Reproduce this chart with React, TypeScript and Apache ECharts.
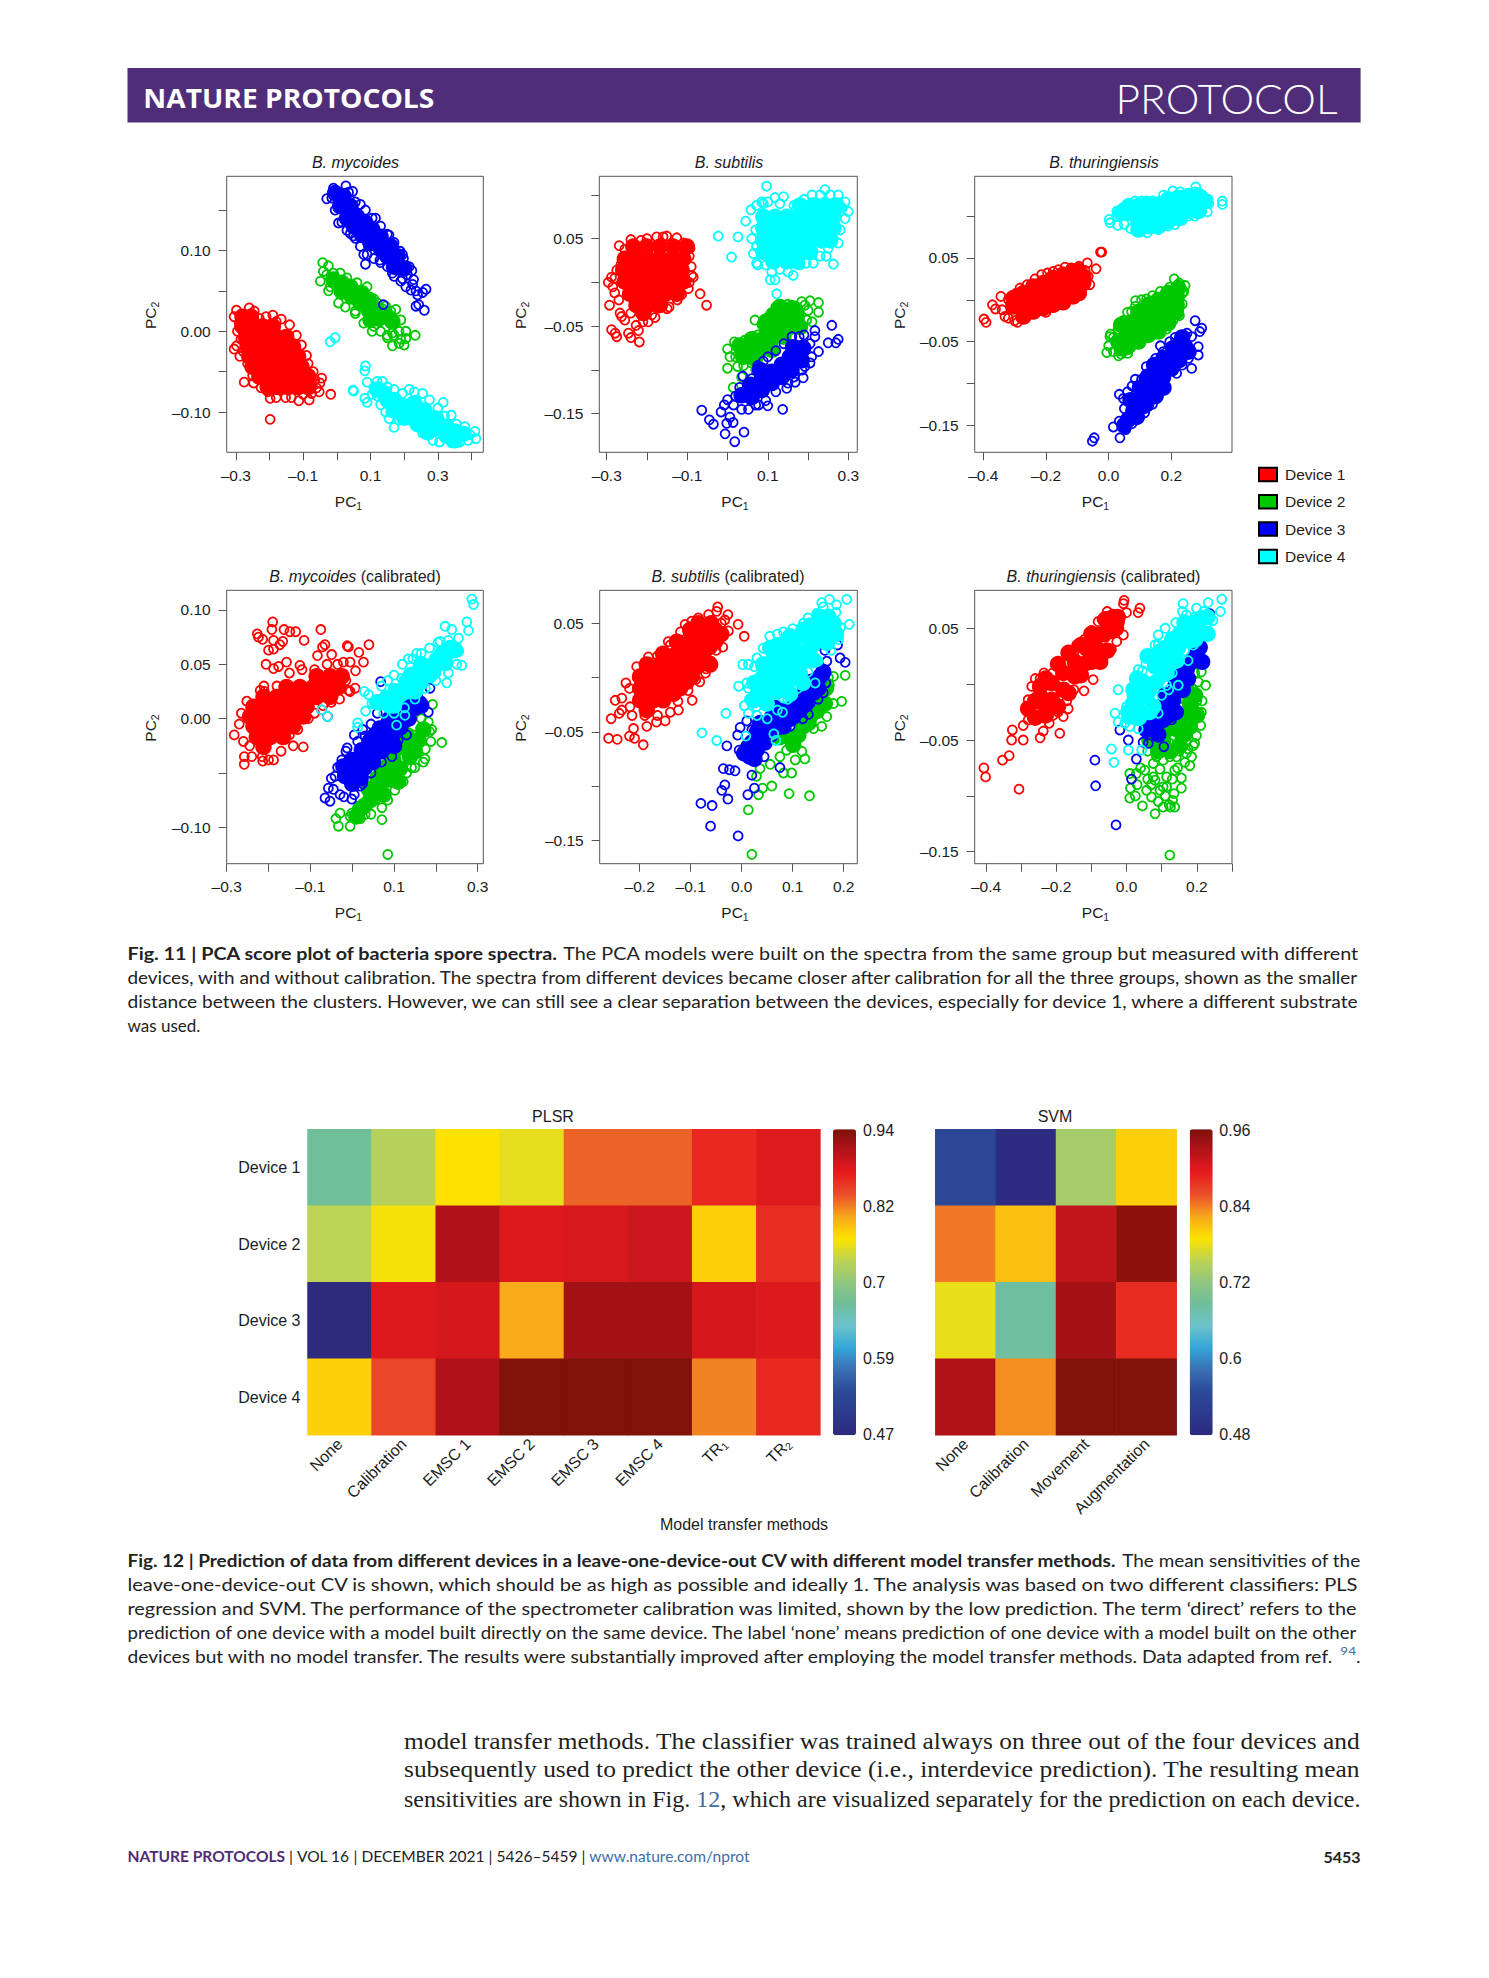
import React, { useEffect, useRef } from "react";
import * as echarts from "echarts";

// ---- values are thousandths of a PC unit, listed as x,y,x,y... ; Core = saturated part of a cloud, Ring = single visible circles
const myc1Core = [-280,18,-255,18,-280,6,-250,6,-220,6,-190,6,-270,-7,-240,-7,-210,-7,-180,-7,-150,-7,-265,-19,-235,-19,-205,-19,-175,-19,-145,-19,-130,-19,-260,-31,-230,-31,-200,-31,-170,-31,-140,-31,-115,-31,-250,-44,-220,-44,-190,-44,-160,-44,-130,-44,-105,-44,-230,-56,-200,-56,-170,-56,-140,-56,-110,-56,-85,-56,-205,-69,-175,-69,-145,-69,-115,-69,-85,-69];
const myc1Ring = [-298,26,-305,18,-260,29,-305,-22,-298,-18,-288,-31,-275,-63,-247,-64,-198,-109,-198,-83,-152,-82,-113,-86,-82,-85,-18,-78,-45,-58,-50,-64,-52,-75,-75,-77,-85,-40,-105,-17,-140,8,-190,20,-230,16,-180,12,-70,-50,-290,10,-295,0,-285,-10,-278,-25,-265,-40,-250,-55,-225,-70,-205,-75,-180,-82,-135,-82,-100,-78,-60,-70,-65,-60,-90,-30,-120,-5,-165,15,-210,18,-245,25];
const myc2Core = [-10,64,15,60,40,55,15,49,45,43,70,47,70,35,95,39,95,26,120,26,125,16,150,18,165,12,100,14];
const myc2Ring = [-42,85,-25,81,-40,74,-49,62,-20,55,10,72,55,22,90,55,120,35,175,27,190,14,165,-18,200,-17,233,-5,205,0,150,-5,170,-5,185,-15,205,-9,110,6,145,31,-30,70,-10,72,30,66,60,60,80,50,110,40,135,28,160,25,-25,50,5,35,25,30,55,25,80,10,105,0,130,0,150,-8,165,-2,185,0,190,-10];
const myc3Core = [-5,171,20,167,10,155,40,155,30,140,60,142,50,130,85,134,75,119,105,126,100,109,130,117,130,103,160,105,150,93,180,93,170,80,200,78];
const myc3Ring = [-30,164,-10,177,27,180,47,173,70,157,115,140,5,134,40,121,55,115,85,83,80,95,155,119,188,99,198,90,223,75,228,64,205,55,220,51,265,52,255,48,240,45,235,31,260,26,243,33,170,68,190,62,128,88,-15,165,-5,150,15,135,30,125,50,118,70,105,90,95,110,90,130,85,150,80,165,72,195,65,210,70,35,172,55,160,85,150,105,140,130,130,150,120,170,110,195,95,215,80,225,58,235,50,138,33];
const myc4Core = [140,-77,170,-85,200,-93,230,-89,230,-102,260,-98,265,-112,295,-108,295,-120,325,-118,325,-129,350,-124,170,-98,200,-107,240,-115,270,-125,350,-135,375,-127,120,-72,150,-85];
const myc4Ring = [-20,-13,-5,-8,85,-43,83,-49,90,-63,48,-73,50,-74,83,-83,90,-88,120,-62,150,-69,130,-91,155,-108,170,-119,230,-75,255,-77,316,-88,340,-104,380,-118,410,-124,413,-133,390,-135,365,-137,340,-138,305,-137,285,-135,255,-126,210,-110,185,-110,110,-70,135,-62,170,-72,195,-77,215,-72,275,-85,300,-95,320,-105,355,-115,395,-128,145,-100,120,-80,105,-78,160,-100];

const sub1Core = [-234,41,-201,41,-168,41,-135,41,-101,41,-255,27,-226,27,-197,27,-168,27,-139,27,-110,27,-259,14,-230,14,-201,14,-172,14,-143,14,-114,14,-255,1,-226,1,-197,1,-168,1,-139,1,-110,1,-242,-13,-213,-13,-184,-13,-155,-13,-126,-13,-226,-26,-197,-26,-168,-26,-209,-35];
const sub1Ring = [-269,42,-240,49,-215,48,-176,52,-151,53,-126,51,-93,39,-89,8,-85,6,-97,-7,-114,-14,-68,-13,-52,-26,-145,-28,-293,-26,-296,0,-288,6,-275,14,-267,-35,-255,-43,-288,-54,-279,-58,-275,-62,-246,-58,-240,-63,-221,-55,-227,-49,-219,-68,-197,-45,-188,-37,-263,-39,-285,-5,-280,5,-265,20,-255,38,-200,50,-160,52,-110,45,-95,30,-90,18,-95,0,-125,-20,-150,-30,-180,-40,-210,-45,-240,-35,-270,-20,-280,-12];
const sub2Core = [114,-37,143,-35,172,-39,97,-51,126,-51,155,-51,180,-51,81,-66,110,-64,139,-62,52,-75,81,-77,110,-77,39,-85,68,-87,30,-72,60,-65,95,-45,130,-28,165,-30];
const sub2Ring = [226,-23,205,-21,184,-22,226,-34,68,-43,17,-68,0,-76,6,-85,0,-98,25,-96,14,-120,35,-108,197,-43,64,-62,43,-66,135,-26,159,-26,192,-26,30,-80,45,-85,60,-92,20,-85,45,-75,75,-60,85,-48,100,-40,120,-28,150,-25,175,-30,200,-32,210,-45,180,-45,40,-95,70,-100];
const sub3Core = [35,-129,60,-131,56,-117,85,-123,85,-110,110,-115,110,-102,135,-108,135,-94,159,-100,155,-85,184,-89,163,-74,188,-75,81,-100];
const sub3Ring = [-64,-146,-45,-157,-35,-162,-16,-148,-8,-140,0,-134,-6,-173,18,-182,41,-171,-2,-161,14,-160,6,-154,38,-107,100,-141,137,-145,52,-145,77,-140,188,-109,168,-114,259,-49,275,-65,250,-69,269,-69,217,-55,217,-62,226,-79,209,-85,178,-62,89,-90,192,-96,147,-121,20,-130,15,-140,35,-145,30,-120,60,-110,75,-95,100,-85,120,-78,140,-70,160,-62,190,-60,205,-70,205,-92,185,-100,165,-108,150,-115,120,-125,95,-135,70,-140];
const sub4Core = [180,88,213,88,242,88,271,88,89,75,118,75,147,75,176,75,205,75,234,75,263,75,89,62,118,62,147,62,176,62,205,62,234,62,263,62,89,48,118,48,147,48,176,48,205,48,234,48,255,48,89,35,118,35,147,35,176,35,205,35,114,24,147,24,172,24];
const sub4Ring = [97,110,139,98,118,97,89,90,72,88,58,83,45,70,-23,53,26,52,10,29,242,106,275,100,292,92,300,81,292,73,122,-13,106,3,118,3,163,8,72,22,213,22,263,21,250,39,261,52,64,33,72,41,110,12,180,20,85,92,100,92,130,90,165,88,190,95,210,100,230,100,255,100,285,85,280,60,275,45,60,50,70,60,75,20,95,20,130,15,150,12,195,22,230,30,245,30];

const thu1Core = [-304,-8,-272,-4,-272,-14,-240,4,-240,-6,-209,8,-209,-2,-177,14,-177,4,-145,18,-145,8,-113,24,-113,14,-81,28,-81,20,-304,2,-272,8,-240,16,-209,20,-177,26,-145,30,-113,34,-95,34,-272,-20,-240,-14,-209,-10,-177,-6,-145,-3,-113,4,-95,8];
const thu1Ring = [-398,-23,-391,-27,-371,-6,-361,-11,-344,4,-331,-20,-291,-27,-283,14,-230,-15,-200,-15,-129,0,-86,9,-40,37,-68,44,-26,57,-22,57,-214,30,-139,39,-177,34,-340,-12,-320,-22,-300,-25,-270,-20,-245,-15,-215,-10,-185,-8,-155,-5,-110,2,-320,0,-295,8,-260,18,-235,25,-195,32,-160,36,-120,38,-95,40,-75,35,-65,28,-60,18];
const thu2Core = [31,-50,63,-40,41,-58,95,-30,95,-40,127,-20,127,-32,159,-12,159,-26,190,-4,190,-18,217,4,217,-6,40,-30,63,-28,95,-15,127,-6,159,0,190,8,222,14,63,-55,95,-50,127,-42,159,-38,190,-28,215,-15];
const thu2Ring = [209,25,244,17,236,8,86,-1,-6,-63,6,-41,31,-67,61,-64,15,-62,164,-39,226,-19,73,-14,121,1,4,-44,15,-45,30,-35,45,-25,60,-15,85,-8,105,0,140,5,165,10,195,15,225,20,240,10,235,-5,225,-10,205,-25,185,-35,140,-40,110,-42,85,-50,60,-60,40,-65,0,-55];
const thu3Core = [63,-143,79,-133,111,-127,95,-120,132,-116,121,-106,153,-104,143,-92,174,-92,159,-82,190,-80,217,-64,244,-56,70,-120,100,-105,125,-92,145,-78,175,-70,205,-58,235,-45,120,-125,150,-115,175,-105,200,-82,225,-72,255,-62,90,-140,50,-150];
const thu3Ring = [276,-25,297,-34,291,-38,212,-45,228,-44,265,-44,286,-56,286,-66,265,-82,34,-113,47,-118,75,-103,217,-88,15,-152,36,-165,34,-145,-46,-165,-52,-169,174,-62,50,-130,60,-110,85,-95,105,-95,120,-80,150,-70,165,-55,195,-50,220,-50,250,-40,255,-70,235,-78,205,-85,180,-95,165,-110,140,-125,115,-135,90,-140,75,-148,55,-155];
const thu4Core = [63,104,95,102,95,92,127,106,127,96,159,106,159,96,190,112,190,102,222,114,222,106,254,116,286,116,307,118,65,112,40,104,95,112,127,114,159,114,190,120,222,122,254,124,286,124,286,106,254,106,222,98,190,94,159,88,127,88,95,84];
const thu4Ring = [2,96,4,92,29,89,26,106,91,83,123,80,159,84,212,90,254,100,297,106,228,129,278,135,276,129,363,118,363,114,318,120,121,118,84,118,25,100,45,110,65,115,105,118,140,118,175,125,205,130,240,125,260,125,300,125,320,115,315,105,275,100,235,95,190,88,140,85,105,82,70,85,50,90];

const mycC1Core = [-85,39,-53,39,-25,39,-157,29,-125,29,-93,29,-61,29,-33,29,-212,20,-180,20,-149,20,-117,20,-85,20,-53,20,-236,11,-204,11,-173,11,-141,11,-109,11,-244,2,-212,2,-180,2,-149,2,-117,2,-236,-7,-204,-7,-173,-7,-141,-7,-228,-17,-196,-17,-165,-17,-212,-26];
const mycC1Ring = [-190,89,-192,82,-227,78,-224,75,-214,73,-188,72,-163,82,-149,80,-135,80,-115,72,-166,71,-173,68,-200,63,-188,64,-75,82,-65,68,-71,66,-12,67,-9,66,16,61,40,68,-49,59,-83,58,-21,52,27,52,-5,52,8,44,-206,50,-188,46,-157,52,-125,49,7,28,-9,26,-45,21,-73,8,-59,2,-117,-26,-141,-25,-188,-38,-214,-39,-258,-35,-258,-42,-282,-15,-252,16,-220,26,-211,30,-260,-21,-176,48,-270,-5,-265,5,-250,0,-245,-25,-240,-35,-215,-35,-200,-38,-170,-30,-150,-15,-130,-10,-105,0,-90,5,-70,12,-50,15,-30,18,-5,25,-15,35,-35,50,-60,50,-90,45,-120,45,-150,42,-180,30,-210,25];
const mycC2Core = [19,-83,43,-75,66,-66,90,-56,75,-50,114,-46,98,-38,138,-35,122,-26,158,-20,170,-10,51,-66,30,-80,110,-58,150,-30,40,-65,60,-55,80,-45,100,-30,130,-15,145,-25,10,-90,75,-70];
const mycC2Ring = [85,-125,-33,-99,-5,-99,-39,-92,-29,-87,-1,-87,31,-88,71,-93,71,-82,192,13,214,-22,188,-21,190,-10,170,-40,174,-37,142,-45,122,-58,102,-66,182,-3,-5,-90,20,-92,45,-88,55,-75,85,-75,105,-58,130,-50,150,-45,175,-28,185,-12,165,0,145,-15,125,-20];
const mycC3Core = [-17,-53,11,-47,-1,-38,35,-37,23,-29,58,-27,43,-20,82,-17,66,-9,106,-6,90,0,122,-1,138,11,-21,-44,20,-55,50,-40,70,-30,95,-20,115,-8,150,20,165,12,0,-60,30,-45,55,-15,85,-5,100,-25,-5,-48,110,5,135,0,150,10];
const mycC3Ring = [-65,-73,-53,-76,-57,-64,-45,-65,-29,-70,-1,-74,19,-62,-41,-53,-25,-38,-12,-27,13,-21,31,-16,68,34,182,6,166,16,186,28,150,25,-50,-55,-35,-45,-15,-30,5,-15,25,-10,45,-5,60,5,85,15,130,-15,110,-20,95,-35,70,-40,45,-50,25,-60,5,-70,-20,-72];
const mycC4Core = [82,19,106,25,130,34,154,42,130,25,178,48,202,54,226,60,246,63,162,33,194,43,222,51,100,12,60,15,150,25,115,22,90,12,140,40,165,50,215,60,235,65,185,40];
const mycC4Ring = [286,110,290,105,274,89,278,81,222,85,238,82,254,74,210,71,262,49,226,33,154,60,134,55,118,37,29,25,39,22,47,14,32,7,13,-4,13,-8,-59,2,-73,8,106,-6,126,3,98,28,70,30,85,35,100,40,120,50,145,55,165,60,185,65,205,70,230,72,255,62,250,50,230,42,200,35,175,28,150,18,125,10,100,5,75,5,55,15];

const subC1Core = [-101,44,-75,44,-52,44,-127,33,-101,33,-75,33,-52,33,-154,22,-127,22,-101,22,-75,22,-186,12,-160,12,-134,12,-108,12,-82,12,-199,1,-173,1,-147,1,-121,1,-98,1,-199,-10,-173,-10,-147,-10,-121,-10,-199,-21,-173,-21,-154,-21,-186,-30,-88,38,-63,38,-114,28,-88,28,-63,28,-140,17,-114,17,-88,17,-62,12,-172,7,-147,7,-121,7,-95,7,-186,-4,-160,-4,-134,-4,-108,-4,-186,-15,-160,-15,-134,-15,-85,50,-60,50,-40,40];
const subC1Ring = [-47,65,-49,61,-27,58,-33,53,-7,49,5,38,-26,43,-37,28,-71,4,-82,-4,-97,-21,-124,-30,-150,-40,-167,-41,-186,-45,-193,-62,-210,-56,-220,-54,-212,-47,-244,-57,-261,-56,-256,-38,-240,-33,-248,-21,-235,-19,-227,-5,-219,-27,-206,10,-183,19,-144,33,-111,49,-98,52,-235,-30,-215,-35,-190,-35,-165,-35,-140,-32,-125,-22,-105,-12,-90,-2,-70,8,-60,15,-50,25,-45,35,-40,50,-65,58,-85,55,-120,42,-140,30,-165,20,-190,12,-205,0,-220,-10];
const subC2Core = [92,-54,111,-53,101,-62,131,-42,147,-31,163,-24,120,-45,135,-35,150,-20,165,-10,75,-55];
const subC2Ring = [203,2,170,0,180,1,172,-7,196,-22,180,-24,167,-36,157,-45,141,-47,124,-75,105,-76,118,-68,98,-88,82,-88,59,-100,93,-107,133,-109,36,-84,29,-91,41,-102,33,-108,13,-122,20,-163,56,-80,75,-73,33,-66,88,-67];
const subC3Core = [36,-42,59,-37,82,-31,105,-24,124,-14,137,-4,42,-50,16,-73,29,-67,101,-36,13,-64,49,-48,82,-45,114,-30,141,-14,154,1,65,-28,30,-50,60,-48,95,-38,125,-25,150,-10,160,5,20,-60,5,-70,25,-75,45,-60];
const subC3Ring = [188,30,193,18,203,14,163,25,167,15,160,-14,134,-24,131,-34,-3,-46,-8,-53,-29,-63,-5,-67,75,-83,44,-73,-36,-84,-24,-85,-13,-86,20,-90,25,-102,12,-108,-33,-99,-39,-104,-27,-112,-80,-116,-58,-118,-61,-137,-7,-146,65,-26,10,-40,20,-48,25,-55,40,-60,60,-55,75,-48,95,-45,120,-38,150,-20,165,-5];
const subC4Core = [33,-13,39,-1,59,-10,62,4,82,7,62,16,82,21,105,13,105,27,127,24,127,38,150,35,147,47,170,44,170,56,85,-4,42,12,49,-24,23,-21,69,-13,114,4,141,16,167,32,180,50,154,56,121,44,95,38,56,27,100,0,120,15,140,30,160,45,185,40,120,-5,75,-5,50,5,75,30,100,35,135,48,40,-12,25,-5,95,-15];
const subC4Ring = [172,72,157,69,206,72,186,67,211,49,194,46,147,59,121,50,82,42,42,27,2,12,13,12,-6,-8,13,-10,5,-26,-31,-33,-78,-51,-49,-58,8,-54,13,-33,82,-19,80,-32,63,-52,67,-58,144,-5,29,-27,15,-20,10,-5,25,10,30,18,55,38,70,40,100,45,130,55,160,65,185,60,190,35,175,25,150,15,130,5,110,-10,90,-20,70,-30,50,-38,30,-35];

const thuC1Core = [-246,-11,-213,-14,-213,1,-180,-5,-180,10,-147,7,-147,20,-114,19,-114,32,-85,32,-85,44,-47,48,-38,60,-246,-2,-227,-20,-280,-22,-260,-15,-260,-30,-230,5,-195,18,-165,28,-130,35,-100,45,-65,45,-60,58,-25,60,-100,20,-130,8,-165,-8,-195,-20,-230,-28,-75,20,-55,30,-30,50];
const thuC1Ring = [-7,75,-9,72,38,68,33,64,0,64,-81,56,-9,44,-28,38,-43,31,-76,19,-95,4,-121,-6,-166,-22,-180,-29,-190,-44,-237,-42,-246,-48,-294,-50,-327,-50,-325,-41,-280,-32,-294,-37,-334,-64,-353,-68,-406,-75,-401,-83,-306,-94,-270,-2,-246,5,-280,-14,-166,27,-142,35,-209,-28,-260,-25,-240,-30,-220,-35,-195,-25,-170,-15,-150,-5,-125,8,-100,20,-75,30,-60,42,-40,45,-20,55,-55,65,-70,58,-100,48,-120,40,-150,28,-175,18,-210,10,-235,10,-260,5];
const thuC2Core = [133,-32,166,-29,114,-41,147,-41,180,-17,85,-47,180,-38,104,-50,170,-5,195,-10,200,-28,150,-55,125,-60,90,-60,165,-45,65,-50];
const thuC2Ring = [213,11,194,10,204,2,225,-1,213,-25,194,-23,211,-37,199,-46,194,-53,175,-58,185,-65,180,-73,166,-70,142,-65,137,-77,104,-68,76,-71,52,-77,9,-80,28,-80,11,-93,9,-102,45,-109,57,-95,71,-101,81,-86,104,-92,114,-83,156,-84,156,-93,135,-98,131,-104,137,-110,121,-108,104,-110,81,-116,123,-153,95,-76,114,-92,76,-83,85,-65,123,-65,161,-56,152,-49,123,-53,190,-5,170,-10,150,-20,125,-15,200,-15,215,-15,205,-25,190,-55,150,-60,100,-55,60,-60,40,-75,60,-85,95,-95,130,-85,145,-75,170,-62,125,-110,110,-100,90,-105,70,-90,30,-90,25,-100];
const thuC3Core = [71,-35,104,-23,133,-14,156,1,171,13,57,-41,85,-32,123,-17,152,7,180,19,104,-32,208,33,110,-10,140,0,160,-5,175,5,195,25,215,20,140,-25,120,-28,90,-45];
const thuC3Ring = [237,63,237,44,213,32,180,21,147,-1,133,-25,128,-32,106,-56,62,-53,28,-67,14,-85,-19,-41,5,-50,5,-25,-90,-68,-88,-91,-30,-126,28,4,47,-52];
const thuC4Core = [28,-20,57,-11,47,2,85,2,81,16,114,21,114,33,147,33,152,45,185,51,213,59,9,-29,85,25,47,-8,19,-17,142,21,180,39,208,45,114,10,76,-20,20,-5,5,-25,35,-30,65,-5,65,-25,100,15,100,30,130,40,130,25,165,40,165,55,195,55,195,40,230,60,230,45,60,25,30,5];
const thuC4Ring = [271,76,267,65,232,73,199,68,161,72,159,65,90,44,81,35,33,13,24,3,-24,-5,-33,-26,-24,-34,-5,-35,9,-38,33,-40,5,-59,43,-59,-43,-58,-36,-70,90,-26,147,-1,175,21,237,44,246,57,114,-1,66,-17,30,-5,15,-10,0,-20,60,-25,75,-25,45,-30,25,-30,100,-10,120,-5,130,10,150,20,165,30,190,35,215,45,230,55,220,65,195,60,170,62,140,55,110,50,90,35,70,25,55,18,45,12];

const deviceNames = ["Device 1", "Device 2", "Device 3", "Device 4"];
const deviceColors = ["#ff0000", "#00c800", "#0000f5", "#00ffff"];

const plsrMethods = ["None", "Calibration", "EMSC 1", "EMSC 2", "EMSC 3", "EMSC 4", "TR{s|1}", "TR{s|2}"];
const plsrRow1 = [0.672, 0.733, 0.773, 0.76, 0.832, 0.832, 0.865, 0.879];
const plsrRow2 = [0.738, 0.768, 0.909, 0.881, 0.884, 0.891, 0.783, 0.862];
const plsrRow3 = [0.472, 0.881, 0.886, 0.804, 0.917, 0.917, 0.886, 0.881];
const plsrRow4 = [0.783, 0.846, 0.909, 0.938, 0.938, 0.938, 0.82, 0.865];
const svmMethods = ["None", "Calibration", "Movement", "Augmentation"];
const svmRow1 = [0.542, 0.485, 0.737, 0.8];
const svmRow2 = [0.842, 0.809, 0.917, 0.95];
const svmRow3 = [0.778, 0.682, 0.936, 0.881];
const svmRow4 = [0.929, 0.833, 0.958, 0.958];
const plsrScale = ["0.94", "0.82", "0.7", "0.59", "0.47"];
const svmScale = ["0.96", "0.84", "0.72", "0.6", "0.48"];
const colorStops = ["#2e2a7e","#2c3a8c","#2b4a98","#3a70b3","#34a5d8","#6cc2cc","#70be9c","#8fc67e","#bdd354","#fce300","#f9a81c","#e9502a","#e81c1e","#b5121a","#7d1209"];

const SANS = '"Liberation Sans", Arial, sans-serif';
const CAP = "Lato, sans-serif";
const INK = "#1c1c1c";
const FS = 15.5;
const FH = 16;

const pairs = (a: number[]) => {
  const o: number[][] = [];
  for (let i = 0; i < a.length; i += 2) o.push([a[i] / 1000, a[i + 1] / 1000]);
  return o;
};

const seq = (...v: number[]) => v;

const panels = [
  { it: "B. mycoides", rest: "", box: [226.7, 176.3, 483.3, 452.3], xr: [-0.327, 0.435], yr: [-0.1498, 0.1918],
    xt: seq(-0.3,-0.2,-0.1,0,0.1,0.2,0.3,0.4), xl: seq(-0.3,-0.1,0.1,0.3), yt: seq(-0.1,-0.05,0,0.05,0.1,0.15), yl: seq(-0.1,0,0.1),
    cx: 355.5, nx: 348.5, ny: 150.7, d: [[myc1Core,myc1Ring],[myc2Core,myc2Ring],[myc3Core,myc3Ring],[myc4Core,myc4Ring]] },
  { it: "B. subtilis", rest: "", box: [599.3, 176.3, 857.3, 452.3], xr: [-0.3184, 0.3223], yr: [-0.1941, 0.1213],
    xt: seq(-0.3,-0.2,-0.1,0,0.1,0.2,0.3), xl: seq(-0.3,-0.1,0.1,0.3), yt: seq(-0.15,-0.1,-0.05,0,0.05,0.1), yl: seq(-0.15,-0.05,0.05),
    cx: 729, nx: 735, ny: 520.7, d: [[sub1Core,sub1Ring],[sub2Core,sub2Ring],[sub3Core,sub3Ring],[sub4Core,sub4Ring]] },
  { it: "B. thuringiensis", rest: "", box: [974.7, 176.3, 1232, 452.3], xr: [-0.4275, 0.3937], yr: [-0.1823, 0.1476],
    xt: seq(-0.4,-0.2,0,0.2), xl: seq(-0.4,-0.2,0,0.2), yt: seq(-0.15,-0.1,-0.05,0,0.05,0.1), yl: seq(-0.15,-0.05,0.05),
    cx: 1104, nx: 1095.5, ny: 899.3, d: [[thu1Core,thu1Ring],[thu2Core,thu2Ring],[thu3Core,thu3Ring],[thu4Core,thu4Ring]] },
  { it: "B. mycoides", rest: " (calibrated)", box: [226.7, 590.3, 483.3, 863.7], xr: [-0.3, 0.3134], yr: [-0.1335, 0.1181],
    xt: seq(-0.3,-0.2,-0.1,0,0.1,0.2,0.3), xl: seq(-0.3,-0.1,0.1,0.3), yt: seq(-0.1,-0.05,0,0.05,0.1), yl: seq(-0.1,0,0.05,0.1),
    cx: 355, nx: 348.5, ny: 150.7, d: [[mycC1Core,mycC1Ring],[mycC2Core,mycC2Ring],[mycC3Core,mycC3Ring],[mycC4Core,mycC4Ring]] },
  { it: "B. subtilis", rest: " (calibrated)", box: [599.7, 590.3, 857.3, 863.7], xr: [-0.2784, 0.2267], yr: [-0.1716, 0.0804],
    xt: seq(-0.2,-0.1,0,0.1,0.2), xl: seq(-0.2,-0.1,0,0.1,0.2), yt: seq(-0.15,-0.1,-0.05,0,0.05), yl: seq(-0.15,-0.05,0.05),
    cx: 728, nx: 735, ny: 520.7, d: [[subC1Core,subC1Ring],[subC2Core,subC2Ring],[subC3Core,subC3Ring],[subC4Core,subC4Ring]] },
  { it: "B. thuringiensis", rest: " (calibrated)", box: [974.7, 590.3, 1232, 863.7], xr: [-0.4321, 0.3], yr: [-0.1607, 0.084],
    xt: seq(-0.4,-0.3,-0.2,-0.1,0,0.1,0.2,0.3), xl: seq(-0.4,-0.2,0,0.2), yt: seq(-0.15,-0.1,-0.05,0,0.05), yl: seq(-0.15,-0.05,0.05),
    cx: 1103.5, nx: 1095.5, ny: 899.3, d: [[thuC1Core,thuC1Ring],[thuC2Core,thuC2Ring],[thuC3Core,thuC3Ring],[thuC4Core,thuC4Ring]] },
];

type Run = { t: string; font: string; fill?: string; dy?: number };
const mctx = () => document.createElement("canvas").getContext("2d") as CanvasRenderingContext2D;

function fitLine(runs: Run[], x: number, y: number, width?: number) {
  const c = mctx();
  const w = runs.map((r) => { c.font = r.font; return c.measureText(r.t).width; });
  const total = w.reduce((a, b) => a + b, 0);
  const k = width ? width / total : 1;
  let cur = x;
  return runs.map((r, i) => {
    const el = {
      type: "text", x: cur, y: y + (r.dy || 0), scaleX: k, z: 10,
      style: { text: r.t, font: r.font, fill: r.fill || "#222", verticalAlign: "middle", align: "left" },
    };
    cur += w[i] * k;
    return el;
  });
}

const L = 127.5, R = 1360.6, CW = R - L;
const capR = `400 17px ${CAP}`, capB = `700 17px ${CAP}`;
const BODY = `400 22.5px "Liberation Serif", serif`;
const BLUE = "#3f6ba6", PURPLE = "#4f2d78";
const foot = `400 15.5px ${CAP}`, footB = `700 15.5px ${CAP}`;

function pageText() {
  const e: any[] = [];
  e.push({ type: "rect", shape: { x: L, y: 68, width: CW, height: 54.5 }, style: { fill: PURPLE }, z: 1 });
  e.push(...fitLine([{ t: "NATURE PROTOCOLS", font: `700 27px "Open Sans", sans-serif`, fill: "#fff" }], 143.3, 97.5, 291));
  e.push(...fitLine([{ t: "PROTOCOL", font: `300 42px ${CAP}`, fill: "#fff" }], 1115.5, 98, 222));
  e.push(...fitLine([{ t: "Fig. 11 | PCA score plot of bacteria spore spectra. ", font: capB }, { t: "The PCA models were built on the spectra from the same group but measured with different", font: capR }], L, 954, CW));
  e.push(...fitLine([{ t: "devices, with and without calibration. The spectra from different devices became closer after calibration for all the three groups, shown as the smaller", font: capR }], L, 977.7, CW));
  e.push(...fitLine([{ t: "distance between the clusters. However, we can still see a clear separation between the devices, especially for device 1, where a different substrate", font: capR }], L, 1001.3, CW));
  e.push(...fitLine([{ t: "was used.", font: capR }], L, 1025));
  e.push(...fitLine([{ t: "Fig. 12 | Prediction of data from different devices in a leave-one-device-out CV with different model transfer methods. ", font: capB }, { t: "The mean sensitivities of the", font: capR }], L, 1560.7, CW));
  e.push(...fitLine([{ t: "leave-one-device-out CV is shown, which should be as high as possible and ideally 1. The analysis was based on two different classifiers: PLS", font: capR }], L, 1584.7, CW));
  e.push(...fitLine([{ t: "regression and SVM. The performance of the spectrometer calibration was limited, shown by the low prediction. The term ‘direct’ refers to the", font: capR }], L, 1609, CW));
  e.push(...fitLine([{ t: "prediction of one device with a model built directly on the same device. The label ‘none’ means prediction of one device with a model built on the other", font: capR }], L, 1632.7, CW));
  e.push(...fitLine([{ t: "devices but with no model transfer. The results were substantially improved after employing the model transfer methods. Data adapted from ref. ", font: capR }, { t: "94", font: `400 12px ${CAP}`, fill: BLUE, dy: -6 }, { t: ".", font: capR }], L, 1656.3, CW));
  e.push(...fitLine([{ t: "model transfer methods. The classifier was trained always on three out of the four devices and", font: BODY, fill: "#222" }], 404, 1741, R - 404));
  e.push(...fitLine([{ t: "subsequently used to predict the other device (i.e., interdevice prediction). The resulting mean", font: BODY }], 404, 1770, R - 404));
  e.push(...fitLine([{ t: "sensitivities are shown in Fig. ", font: BODY }, { t: "12", font: BODY, fill: BLUE }, { t: ", which are visualized separately for the prediction on each device.", font: BODY }], 404, 1799, R - 404));
  e.push(...fitLine([
    { t: "NATURE PROTOCOLS", font: footB, fill: PURPLE }, { t: " | ", font: foot },
    { t: "VOL 16", font: foot }, { t: " | ", font: foot }, { t: "DECEMBER 2021", font: foot }, { t: " | ", font: foot },
    { t: "5426–5459", font: foot }, { t: " | ", font: foot }, { t: "www.nature.com/nprot", font: foot, fill: BLUE },
  ], L, 1856.2, 622));
  e.push({ type: "text", x: R, y: 1856.2, z: 10, style: { text: "5453", font: `700 16px ${CAP}`, fill: "#222", align: "right", verticalAlign: "middle" } });

  const sansText = (text: string, x: number, y: number, align = "center", rotation = 0) => ({
    type: "text", x, y, rotation, z: 10,
    style: { text, font: `${FH}px ${SANS}`, fill: INK, align, verticalAlign: "middle" },
  });
  const pc = (n: string, x: number, y: number, rotation = 0) => ({
    type: "text", x, y, rotation, z: 10,
    style: {
      text: `{a|PC}{s|${n}}`, align: "center", verticalAlign: "middle", fill: INK,
      rich: { a: { fontSize: FS, fontFamily: SANS, fill: INK }, s: { fontSize: 10.5, fontFamily: SANS, fill: INK, padding: [9, 0, 0, 0] } },
    },
  });
  panels.forEach((p) => {
    const top = p.box[1];
    e.push({
      type: "text", x: p.cx, y: top - 13.9, z: 10,
      style: {
        text: `{i|${p.it}}${p.rest ? `{n|${p.rest}}` : ""}`, align: "center", verticalAlign: "middle", fill: INK,
        rich: { i: { fontSize: FH, fontFamily: SANS, fontStyle: "italic", fill: INK }, n: { fontSize: FH, fontFamily: SANS, fill: INK } },
      },
    });
    e.push(pc("1", p.nx, p.box[3] + 49));
    e.push(pc("2", p.ny, (p.box[1] + p.box[3]) / 2 + 1, Math.PI / 2));
  });
  e.push(sansText("PLSR", 553, 1116));
  e.push(sansText("SVM", 1055, 1116));
  e.push(sansText("Model transfer methods", 744, 1524));
  const scaleY = [1130, 1206.5, 1282.5, 1358.5, 1434.5];
  plsrScale.forEach((s, i) => e.push(sansText(s, 863, scaleY[i], "left")));
  svmScale.forEach((s, i) => e.push(sansText(s, 1219.3, scaleY[i], "left")));
  return e;
}

const fmt = (digits: number) => (v: number) => v.toFixed(digits).replace("-", "–");

function buildOption() {
  const grid: any[] = [], xAxis: any[] = [], yAxis: any[] = [], series: any[] = [];
  panels.forEach((p, i) => {
    const [l, t, r, b] = p.box;
    grid.push({ left: l, top: t, width: r - l, height: b - t, show: true, borderColor: "#555", borderWidth: 1, backgroundColor: "transparent" });
    xAxis.push({
      type: "value", gridIndex: i, min: p.xr[0], max: p.xr[1], splitLine: { show: false }, axisLine: { show: false, onZero: false },
      axisTick: { show: true, length: 8, inside: false, lineStyle: { color: "#555" }, customValues: p.xt },
      axisLabel: { show: true, customValues: p.xl, margin: 15, color: INK, fontSize: FS, fontFamily: SANS, formatter: fmt(1), hideOverlap: false },
    });
    yAxis.push({
      type: "value", gridIndex: i, min: p.yr[0], max: p.yr[1], splitLine: { show: false }, axisLine: { show: false, onZero: false },
      axisTick: { show: true, length: 8, lineStyle: { color: "#555" }, customValues: p.yt },
      axisLabel: { show: true, customValues: p.yl, margin: 16, color: INK, fontSize: FS, fontFamily: SANS, formatter: fmt(2), hideOverlap: false },
    });
    p.d.forEach((pair, k) => {
      series.push({
        name: deviceNames[k], type: "scatter", xAxisIndex: i, yAxisIndex: i, symbol: "circle", symbolSize: 16.5, silent: true,
        itemStyle: { color: deviceColors[k], opacity: 1 }, data: pairs(pair[0]),
      });
      series.push({
        name: deviceNames[k], type: "scatter", xAxisIndex: i, yAxisIndex: i, symbol: "circle", symbolSize: 9, silent: true,
        itemStyle: { color: "transparent", borderColor: deviceColors[k], borderWidth: 1.8, opacity: 1 }, data: pairs(pair[1]),
      });
    });
  });

  const heat = (g: number, box: number[], cats: string[], rows: number[][]) => {
    grid.push({ left: box[0], top: box[1], width: box[2] - box[0], height: box[3] - box[1] });
    xAxis.push({
      type: "category", gridIndex: g, data: cats, axisLine: { show: false }, axisTick: { show: false }, splitLine: { show: false },
      axisLabel: {
        rotate: 45, interval: 0, margin: 6, color: INK, fontSize: FH, fontFamily: SANS,
        rich: { s: { fontSize: 10.5, fontFamily: SANS, color: INK, padding: [8, 0, 0, 0] } },
      },
    });
    yAxis.push({
      type: "category", gridIndex: g, inverse: true, data: deviceNames, axisLine: { show: false }, axisTick: { show: false }, splitLine: { show: false },
      axisLabel: { show: g === 6, margin: 7, color: INK, fontSize: FH, fontFamily: SANS },
    });
    const data: number[][] = [];
    rows.forEach((row, y) => row.forEach((v, x) => data.push([x, y, v])));
    series.push({ type: "heatmap", xAxisIndex: g, yAxisIndex: g, data, silent: true, progressive: 0, itemStyle: { borderWidth: 0 } });
    return series.length - 1;
  };
  const s1 = heat(6, [307.5, 1129.3, 820.4, 1435.3], plsrMethods, [plsrRow1, plsrRow2, plsrRow3, plsrRow4]);
  const s2 = heat(7, [935.3, 1129.3, 1176.7, 1435.3], svmMethods, [svmRow1, svmRow2, svmRow3, svmRow4]);

  const vm = (idx: number, left: number, min: number, max: number) => ({
    type: "continuous", seriesIndex: idx, dimension: 2, min, max, left, top: 1129.3, padding: 0, itemWidth: 23, itemHeight: 306,
    calculable: false, realtime: false, orient: "vertical", inRange: { color: colorStops }, text: undefined, hoverLink: false,
  });

  return {
    animation: false,
    backgroundColor: "#fff",
    textStyle: { fontFamily: SANS },
    grid, xAxis, yAxis, series,
    visualMap: [vm(s1, 833, 0.47, 0.94), vm(s2, 1189.7, 0.48, 0.96)],
    legend: {
      left: 1258, top: 466.5, orient: "vertical", padding: 0, itemWidth: 18, itemHeight: 13.5, itemGap: 11.3, selectedMode: false,
      textStyle: { fontSize: FS, fontFamily: SANS, color: INK, padding: [0, 0, 0, 3] },
      data: deviceNames.map((name, i) => ({ name, icon: "rect", itemStyle: { color: deviceColors[i], borderColor: "#000", borderWidth: 2 } })),
    },
    graphic: { elements: pageText() },
  };
}

export default function App() {
  const ref = useRef<HTMLDivElement>(null);
  useEffect(() => {
    document.body.style.margin = "0";
    const chart = echarts.init(ref.current as HTMLDivElement, undefined, { renderer: "svg" });
    chart.setOption(buildOption() as any);
    return () => chart.dispose();
  }, []);
  return <div ref={ref} style={{ width: 1489, height: 1978, background: "#fff" }} />;
}
